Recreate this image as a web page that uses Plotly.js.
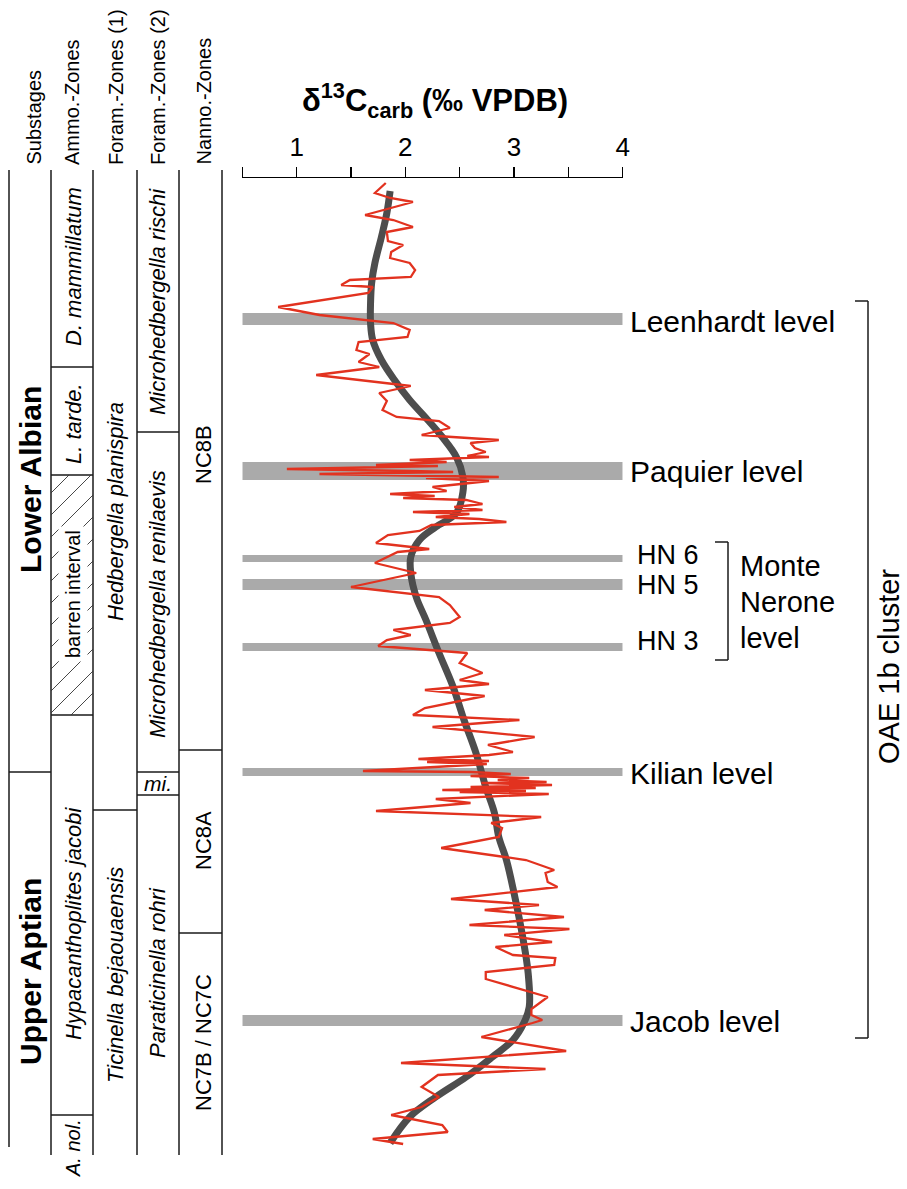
<!DOCTYPE html>
<html>
<head>
<meta charset="utf-8">
<script src="https://cdn.plot.ly/plotly-3.0.1.min.js"></script>
<style>html,body{margin:0;padding:0;background:#fff;}#chart{width:907px;height:1189px;}</style>
</head>
<body>
<div id="chart"></div>
<script>
// ---------- DATA ----------
// stratigraphic position (depth units, increasing downwards) and δ13Ccarb (‰ VPDB)
const red_depth = [183,193,198,202,215,220,227,232,241,245,252,258,263,270,277,280,285,287,293,307,315,323,330,337,342,350,354,362,367,375,386,393,401,410,417,421,428,435,440,443,448,452,456,457,460,462,465,466,468,469,471,472,474,477,478,481,487,491,494,496,498,500,504,507,510,512,514,517,519,522,525,531,535,543,549,552,563,573,587,597,605,617,623,630,635,640,646,653,663,673,680,684,690,696,708,715,720,727,737,745,752,755,759,761,762,764,767,771,772,774,776,778,780,782,783,785,787,788,790,791,792,794,799,803,811,817,823,828,837,848,860,870,873,882,887,899,905,910,917,925,929,935,942,947,955,958,965,972,979,997,1009,1015,1020,1023,1037,1051,1063,1069,1075,1087,1097,1107,1115,1125,1132,1139,1144];
const red_d13c  = [1.82,1.72,1.86,2.07,1.63,1.89,2.07,1.83,1.84,1.98,1.87,1.86,2.04,2.09,2.05,1.49,1.41,1.70,1.66,0.83,1.21,1.89,2.04,2.02,1.57,1.55,1.67,1.57,1.76,1.18,2.05,1.76,1.83,1.79,1.92,2.31,2.41,2.15,2.86,2.60,2.64,2.74,2.57,2.77,2.04,2.38,1.73,2.30,1.40,0.91,2.04,2.44,1.21,2.86,2.19,2.77,2.25,2.38,1.86,2.27,1.98,2.56,2.71,2.45,2.71,2.07,2.59,2.28,2.68,2.93,2.24,2.13,1.84,1.73,2.22,1.93,1.72,2.10,1.50,2.31,2.41,2.50,2.41,1.89,2.05,1.83,1.75,2.57,2.50,2.71,2.50,2.77,2.18,2.73,2.18,2.07,3.05,2.25,3.19,2.76,2.99,2.77,2.12,2.77,2.20,2.75,2.27,1.61,2.60,2.97,2.60,3.14,2.85,3.30,2.70,3.35,2.60,3.20,2.34,3.11,2.50,3.32,2.28,2.60,1.73,3.25,2.79,2.89,2.86,2.33,3.11,3.37,3.29,3.31,3.40,2.42,3.23,2.73,3.46,2.59,3.51,2.91,3.35,2.83,2.99,3.38,3.37,2.74,2.74,3.31,3.16,3.16,3.26,3.17,2.70,3.48,1.96,3.29,2.30,2.15,2.31,2.15,1.87,2.34,2.39,1.70,1.98];

const smooth_depth = [191,213,237,263,283,303,323,340,360,380,400,418,437,457,477,492,513,527,540,557,573,597,620,653,687,720,753,787,813,837,860,893,937,973,1007,1023,1040,1057,1077,1097,1117,1143];
const smooth_d13c  = [1.86,1.83,1.78,1.72,1.69,1.68,1.68,1.70,1.78,1.90,2.04,2.19,2.34,2.47,2.53,2.53,2.47,2.28,2.13,2.05,2.05,2.10,2.19,2.31,2.44,2.54,2.65,2.74,2.82,2.86,2.93,3.00,3.08,3.13,3.14,3.09,2.99,2.80,2.56,2.28,2.04,1.86];

const level_names  = ['Leenhardt level','Paquier level','HN 6','HN 5','HN 3','Kilian level','Jacob level'];
const level_top    = [313,462,555,579,643,768,1015];
const level_bottom = [325,480,562,590,651,776,1026];

const x_ticks = [1,2,3,4];

const col_headers = ['Substages','Ammo.-Zones','Foram.-Zones (1)','Foram.-Zones (2)','Nanno.-Zones'];

const substage_names = ['Lower Albian','Upper Aptian'];
const substage_bounds = [170,772,1147];
const ammo_names  = ['D. mammillatum','L. tarde.','barren interval','Hypacanthoplites jacobi','A. nol.'];
const ammo_bounds = [170,367,475,715,1115,1155];
const foram1_names  = ['Hedbergella planispira','Ticinella bejaouaensis'];
const foram1_bounds = [170,810,1155];
const foram2_names  = ['Microhedbergella rischi','Microhedbergella renilaevis','mi.','Paraticinella rohri'];
const foram2_bounds = [170,432,772,795,1155];
const nanno_names  = ['NC8B','NC8A','NC7B / NC7C'];
const nanno_bounds = [170,750,933,1155];

// ---------- LAYOUT HELPERS ----------
const W = 907, H = 1189;
const FONT = 'Liberation Sans, Arial, Helvetica, sans-serif';
const px = v => v / W;
const py = v => 1 - v / H;
const colX = [9, 51, 93, 137, 179, 222];           // column edges
const colBottom = [1147, 1155, 1155, 1155, 1155, 1155];
const lineStyle = {color: '#1a1a1a', width: 1.5};

const shapes = [];
const annotations = [];

// grey levels
for (let i = 0; i < level_names.length; i++) {
  shapes.push({type: 'rect', xref: 'x', yref: 'y', x0: 0.5, x1: 4, y0: level_top[i], y1: level_bottom[i],
    fillcolor: '#aaaaaa', line: {width: 0}, layer: 'below'});
}
const levelLabelX  = [629, 629, 636, 636, 636, 629, 629];
const levelLabelY  = [321, 471, 555, 585, 641, 773, 1021];
const levelLabelSz = [30, 30, 27, 27, 27, 30, 30];
for (let i = 0; i < level_names.length; i++) {
  annotations.push({xref: 'paper', yref: 'y', x: px(levelLabelX[i]), y: levelLabelY[i],
    xanchor: 'left', yanchor: 'middle', showarrow: false, text: level_names[i], borderpad: 0,
    font: {family: FONT, size: levelLabelSz[i], color: '#000'}});
}
// Monte Nerone level
['Monte', 'Nerone', 'level'].forEach((t, k) => {
  annotations.push({xref: 'paper', yref: 'y', x: px(739), y: 566 + 36 * k, xanchor: 'left', yanchor: 'middle',
    showarrow: false, text: t, borderpad: 0, font: {family: FONT, size: 29, color: '#000'}});
});
// brackets
function bracket(x0, x1, y0, y1) {
  shapes.push({type: 'line', xref: 'paper', yref: 'y', x0: px(x0), x1: px(x1), y0: y0, y1: y0, line: lineStyle});
  shapes.push({type: 'line', xref: 'paper', yref: 'y', x0: px(x1), x1: px(x1), y0: y0, y1: y1, line: lineStyle});
  shapes.push({type: 'line', xref: 'paper', yref: 'y', x0: px(x0), x1: px(x1), y0: y1, y1: y1, line: lineStyle});
}
bracket(715, 728, level_top[2] - 13, level_bottom[4] + 9);
bracket(855, 868, level_top[0] - 12, level_bottom[6] + 12);
annotations.push({xref: 'paper', yref: 'y', x: px(889), y: 667, xanchor: 'center', yanchor: 'middle', textangle: -90,
  showarrow: false, text: 'OAE 1b cluster', borderpad: 0, font: {family: FONT, size: 29, color: '#000'}});

// title
annotations.push({xref: 'paper', yref: 'paper', x: px(435), y: py(101), xanchor: 'center', yanchor: 'middle', showarrow: false,
  text: '<b>δ<sup>13</sup>C<sub>carb</sub> (‰ VPDB)</b>', font: {family: FONT, size: 31, color: '#000'}});

// ---------- STRATIGRAPHIC COLUMN ----------
for (let i = 0; i < colX.length; i++) {
  shapes.push({type: 'line', xref: 'paper', yref: 'y', x0: px(colX[i]), x1: px(colX[i]), y0: 170, y1: colBottom[i], line: lineStyle});
}
function boundaries(bounds, c) {
  for (let k = 1; k < bounds.length - 1; k++) {
    shapes.push({type: 'line', xref: 'paper', yref: 'y', x0: px(colX[c]), x1: px(colX[c + 1]), y0: bounds[k], y1: bounds[k], line: lineStyle});
  }
}
boundaries(substage_bounds, 0);
boundaries(ammo_bounds, 1);
boundaries(foram1_bounds, 2);
boundaries(foram2_bounds, 3);
boundaries(nanno_bounds, 4);

// hatch of barren interval
(function () {
  const xa = colX[1], xb = colX[2], ya = ammo_bounds[2], yb = ammo_bounds[3];
  const w = xb - xa;
  for (let c = ya + 18; c < yb + w; c += 22) {
    let x0 = xa, y0 = c, x1 = xb, y1 = c - w;
    if (y0 > yb) { x0 = xa + (y0 - yb); y0 = yb; }
    if (y1 < ya) { x1 = xa + (c - ya); y1 = ya; }
    shapes.push({type: 'line', xref: 'paper', yref: 'y', x0: px(x0), x1: px(x1), y0: y0, y1: y1, line: {color: '#333', width: 0.9}});
  }
})();

// headers
const headerX = [33, 72, 116, 158, 203];
col_headers.forEach((t, i) => {
  annotations.push({xref: 'paper', yref: 'y', x: px(headerX[i]), y: 166, xanchor: 'center', yanchor: 'bottom', textangle: -90,
    showarrow: false, text: t, borderpad: 0, font: {family: FONT, size: 20, color: '#000'}});
});

function colLabel(text, x, y, size, angle, bg) {
  const a = {xref: 'paper', yref: 'y', x: px(x), y: y, xanchor: 'center', yanchor: 'middle', textangle: angle,
    showarrow: false, text: text, borderpad: 0, font: {family: FONT, size: size, color: '#000'}};
  if (bg) { a.bgcolor = '#ffffff'; a.borderpad = 3; }
  annotations.push(a);
}
const substageY = [480, 972];
substage_names.forEach((t, i) => colLabel('<b>' + t + '</b>', 30, substageY[i], 30, -90));
const ammoY = [267, 424, 594, 924, 1148];
ammo_names.forEach((t, i) => {
  if (t === 'barren interval') colLabel(t, 73, ammoY[i], 20, -90, true);
  else colLabel('<i>' + t + '</i>', 73, ammoY[i], i === 4 ? 20 : 22, -90);
});
const foram1Y = [511, 975];
foram1_names.forEach((t, i) => colLabel('<i>' + t + '</i>', 115, foram1Y[i], 22, -90));
const foram2Y = [302, 604, 783, 973];
foram2_names.forEach((t, i) => {
  if (t === 'mi.') colLabel('<i>' + t + '</i>', 158, foram2Y[i], 21, 0);
  else colLabel('<i>' + t + '</i>', 157, foram2Y[i], 22, -90);
});
const nannoY = [455, 841, 1043];
nanno_names.forEach((t, i) => colLabel(t, 203, nannoY[i], 22, -90));

// ---------- TRACES ----------
const traces = [
  {x: smooth_d13c, y: smooth_depth, type: 'scatter', mode: 'lines',
   line: {color: '#4d4d4d', width: 7, shape: 'spline', smoothing: 1}, hoverinfo: 'skip'},
  {x: red_d13c, y: red_depth, type: 'scatter', mode: 'lines',
   line: {color: '#e2321f', width: 2.3}, hoverinfo: 'skip'}
];

const layout = {
  width: W, height: H,
  margin: {l: 0, r: 0, t: 0, b: 0},
  paper_bgcolor: '#fff', plot_bgcolor: 'rgba(0,0,0,0)',
  showlegend: false,
  xaxis: {
    domain: [242.3 / W, 622.7 / W], range: [0.5, 4], side: 'top', anchor: 'free', position: py(176.7),
    showline: true, linecolor: '#000', linewidth: 1.5, showgrid: false, zeroline: false,
    tickmode: 'array', tickvals: x_ticks, ticktext: x_ticks.map(String),
    ticks: 'outside', ticklen: 10, tickwidth: 1.5, tickcolor: '#000',
    minor: {tick0: 0.5, dtick: 0.5, ticks: 'outside', ticklen: 10, tickwidth: 1.5, tickcolor: '#000', showgrid: false},
    tickfont: {family: FONT, size: 26, color: '#000'}, fixedrange: true
  },
  yaxis: {domain: [0, 1], range: [H, 0], visible: false, showgrid: false, zeroline: false, fixedrange: true},
  shapes: shapes,
  annotations: annotations
};

Plotly.newPlot('chart', traces, layout, {staticPlot: true, displayModeBar: false});
</script>
</body>
</html>
